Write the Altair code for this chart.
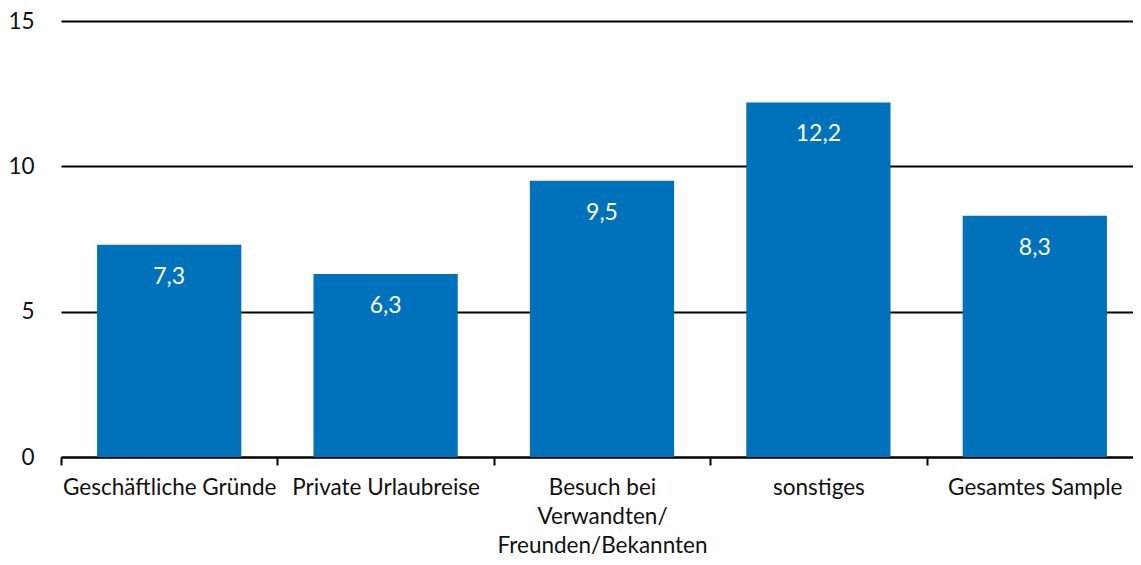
import altair as alt
import pandas as pd

categories = [
    "Geschäftliche Gründe",
    "Private Urlaubreise",
    "Besuch bei\nVerwandten/\nFreunden/Bekannten",
    "sonstiges",
    "Gesamtes Sample",
]
values = [7.3, 6.3, 9.5, 12.2, 8.3]
y_ticks = [0, 5, 10, 15]

df = pd.DataFrame({"cat": categories, "value": values})

FONT = "Lato"
BLUE = "#0072BB"
FS = 22.5

base = alt.Chart(df).transform_calculate(
    lbl="replace(format(datum.value, '.1f'), '.', ',')"
)

x = alt.X(
    "cat:N",
    sort=categories,
    title=None,
    scale=alt.Scale(paddingInner=0, paddingOuter=0, range=[0, 1082]),
    axis=alt.Axis(
        labelAngle=0,
        labelExpr="split(datum.label, '\\n')",
        labelFont=FONT,
        labelFontSize=FS,
        labelColor="#111111",
        labelLineHeight=29,
        labelPadding=11,
        labelLimit=400,
        tickBand="extent",
        tickSize=8,
        tickWidth=2,
        tickColor="black",
        domainColor="black",
        domainWidth=2,
        grid=False,
    ),
)

y = alt.Y(
    "value:Q",
    title=None,
    scale=alt.Scale(domain=[0, 15], nice=False),
    axis=alt.Axis(
        values=y_ticks,
        labelFont=FONT,
        labelFontSize=FS,
        labelColor="#111111",
        labelPadding=27,
        ticks=False,
        domain=False,
        grid=True,
        gridColor="black",
        gridWidth=2,
        gridOpacity=1,
    ),
)

bars = base.mark_bar(color=BLUE, width={"band": 2 / 3}).encode(x=x, y=y)

text = base.mark_text(
    color="white", font=FONT, fontSize=23, baseline="middle", dy=32
).encode(
    x=alt.X("cat:N", sort=categories),
    y=alt.Y("value:Q"),
    text="lbl:N",
)

chart = (
    alt.layer(bars, text)
    .properties(
        width=1072,
        height=436,
        background="white",
        padding={"left": 53, "top": 13, "right": 0, "bottom": 102},
        autosize=alt.AutoSizeParams(type="none"),
    )
    .configure_view(stroke="transparent", strokeWidth=0)
)

chart.save("out.html", embed_options={"renderer": "svg", "actions": False})
